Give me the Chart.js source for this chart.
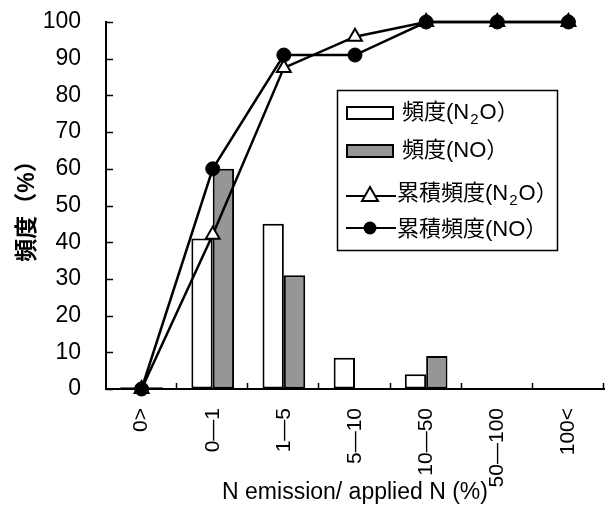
<!DOCTYPE html>
<html>
<head>
<meta charset="utf-8">
<script src="https://cdn.jsdelivr.net/npm/chart.js@4.4.1/dist/chart.umd.min.js"></script>
<style>
  html, body { margin: 0; padding: 0; background: #fff; }
</style>
</head>
<body>
<canvas id="chart" width="614" height="506"></canvas>
<script>
const categories = ["0>", "0—1", "1—5", "5—10", "10—50", "50—100", "100<"];
const freqN2O = [0.5, 41, 45, 8.5, 4, 0, 0];
const freqNO = [0.5, 60, 31, 0, 9, 0, 0];
const cumN2O = [0, 42, 87.5, 96, 100, 100, 100];
const cumNO = [0, 60, 91, 91, 100, 100, 100];
const yTicks = [0, 10, 20, 30, 40, 50, 60, 70, 80, 90, 100];

const sans = '"Liberation Sans", "Noto Sans CJK JP"';

// draws text, with the "2" in N2O as a subscript
function drawLegendText(ctx, text, x, y) {
  const parts = text.split("N2O");
  ctx.textBaseline = "middle";
  ctx.textAlign = "left";
  ctx.font = "22px " + sans;
  ctx.fillText(parts[0], x, y);
  x += ctx.measureText(parts[0]).width;
  if (parts.length > 1) {
    ctx.fillText("N", x, y);
    x += ctx.measureText("N").width + 1;
    ctx.font = "15px " + sans;
    ctx.fillText("2", x, y + 7);
    x += ctx.measureText("2").width + 1;
    ctx.font = "22px " + sans;
    ctx.fillText("O" + parts[1], x, y);
  }
}

const extras = {
  id: "extras",
  afterDraw(chart) {
    const ctx = chart.ctx;
    const xs = chart.scales.x;
    const ys = chart.scales.y;
    const area = chart.chartArea;
    ctx.save();
    ctx.strokeStyle = "#000";
    ctx.lineWidth = 1.5;
    // inward ticks on y axis
    yTicks.forEach(function(v) {
      const py = Math.round(ys.getPixelForValue(v)) + 0.5;
      ctx.beginPath();
      ctx.moveTo(area.left, py);
      ctx.lineTo(area.left + 7, py);
      ctx.stroke();
    });
    // inward ticks on x axis at category boundaries
    for (let i = 1; i <= categories.length; i++) {
      let px;
      if (i < categories.length) {
        px = (xs.getPixelForValue(i - 1) + xs.getPixelForValue(i)) / 2;
      } else {
        px = area.right;
      }
      px = Math.round(px) - 0.5;
      ctx.beginPath();
      ctx.moveTo(px, area.bottom);
      ctx.lineTo(px, area.bottom - 6);
      ctx.stroke();
    }

    // legend box
    const ds = chart.data.datasets;
    ctx.fillStyle = "#fff";
    ctx.fillRect(337, 90, 220, 160);
    ctx.lineWidth = 1.5;
    ctx.strokeRect(337.5, 90.5, 220, 160);

    ctx.lineWidth = 2;
    ctx.fillStyle = ds[2].backgroundColor;
    ctx.fillRect(347, 107, 46, 12);
    ctx.strokeRect(347, 107, 46, 12);
    ctx.fillStyle = ds[3].backgroundColor;
    ctx.fillRect(347, 145, 46, 12);
    ctx.strokeRect(347, 145, 46, 12);

    ctx.beginPath();
    ctx.moveTo(346, 196);
    ctx.lineTo(396, 196);
    ctx.moveTo(346, 228);
    ctx.lineTo(396, 228);
    ctx.stroke();
    ctx.fillStyle = "#fff";
    ctx.beginPath();
    ctx.moveTo(370, 187);
    ctx.lineTo(378, 201);
    ctx.lineTo(362, 201);
    ctx.closePath();
    ctx.fill();
    ctx.stroke();
    ctx.fillStyle = "#000";
    ctx.beginPath();
    ctx.arc(370, 228, 6.5, 0, Math.PI * 2);
    ctx.fill();

    ctx.fillStyle = "#000";
    drawLegendText(ctx, ds[2].label, 402, 113);
    drawLegendText(ctx, ds[3].label, 402, 151);
    drawLegendText(ctx, ds[1].label, 397, 194);
    drawLegendText(ctx, ds[0].label, 397, 230);
    ctx.restore();
  }
};

const ctx = document.getElementById("chart");
new Chart(ctx, {
  type: "bar",
  data: {
    labels: categories,
    datasets: [
      {
        type: "line",
        label: "累積頻度(NO）",
        data: cumNO,
        order: 0,
        borderColor: "#000",
        borderWidth: 2.5,
        tension: 0,
        clip: false,
        pointStyle: "circle",
        pointRadius: 7,
        pointBackgroundColor: "#000",
        pointBorderColor: "#000",
        pointBorderWidth: 1
      },
      {
        type: "line",
        label: "累積頻度(N2O）",
        data: cumN2O,
        order: 1,
        borderColor: "#000",
        borderWidth: 2.5,
        tension: 0,
        clip: false,
        pointStyle: "triangle",
        pointRadius: 8,
        pointBackgroundColor: "#fff",
        pointBorderColor: "#000",
        pointBorderWidth: 2
      },
      {
        label: "頻度(N2O）",
        data: freqN2O,
        order: 2,
        backgroundColor: "#fff",
        borderColor: "#000",
        borderWidth: 2,
        borderSkipped: false,
        barPercentage: 1,
        categoryPercentage: 0.6
      },
      {
        label: "頻度(NO）",
        data: freqNO,
        order: 2,
        backgroundColor: "#969696",
        borderColor: "#000",
        borderWidth: 2,
        borderSkipped: false,
        barPercentage: 1,
        categoryPercentage: 0.6
      }
    ]
  },
  options: {
    responsive: false,
    animation: false,
    events: [],
    layout: { padding: { top: 22, right: 6, left: 0, bottom: 0 } },
    plugins: { legend: { display: false }, tooltip: { enabled: false } },
    scales: {
      x: {
        offset: true,
        grid: { display: true, drawOnChartArea: false, drawTicks: false },
        border: { color: "#000", width: 2 },
        ticks: {
          color: "#000",
          autoSkip: false,
          minRotation: 90,
          maxRotation: 90,
          padding: 19,
          font: { size: 21, family: sans }
        },
        title: {
          display: true,
          text: "N emission/ applied N (%)",
          color: "#000",
          font: { size: 23, family: sans },
          padding: { top: 0, bottom: 0 }
        },
        afterFit: function(s) {
          s.height = 117;
          s.paddingLeft = 0;
          s.paddingRight = 0;
        }
      },
      y: {
        min: 0,
        max: 100,
        grid: { display: true, drawOnChartArea: false, drawTicks: false },
        border: { color: "#000", width: 2 },
        ticks: {
          stepSize: 10,
          color: "#000",
          padding: 25,
          font: { size: 23, family: sans }
        },
        title: {
          display: true,
          text: "頻度（%）",
          color: "#000",
          font: { size: 23, family: sans, weight: "bold" },
          padding: { top: 14, bottom: 0 }
        },
        afterFit: function(s) {
          s.width = 106;
          s.paddingTop = 0;
          s.paddingBottom = 0;
        }
      }
    }
  },
  plugins: [extras]
});
</script>
</body>
</html>
